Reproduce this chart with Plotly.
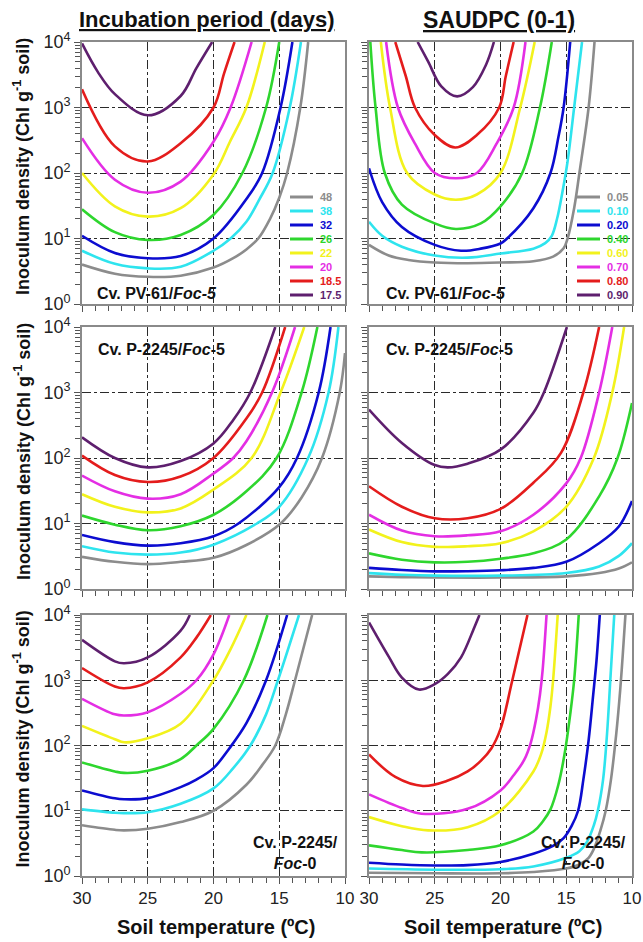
import plotly.graph_objects as go

W, H = 643, 942

# ---------------- categories / ticks ----------------
IP_LEVELS = ["48", "38", "32", "26", "22", "20", "18.5", "17.5"]
SAUDPC_LEVELS = ["0.05", "0.10", "0.20", "0.40", "0.60", "0.70", "0.80", "0.90"]
X_TICKS = [30, 25, 20, 15, 10]
X_TICK_TEXT = ["30", "25", "20", "15", "10"]
Y_TICKS = [1, 10, 100, 1000, 10000]
Y_TICK_TEXT = ["10<sup>0</sup>", "10<sup>1</sup>", "10<sup>2</sup>", "10<sup>3</sup>", "10<sup>4</sup>"]

# ---------------- data: (soil temperature, inoculum density) ----------------
# Panel 1: incubation period, Cv. PV-61 / Foc-5
p1_48 = [(30, 4.0), (27.5, 2.9), (25, 2.6), (22.5, 2.7), (20, 3.6), (18.5, 5), (17.5, 6.8), (16.6, 10), (15.7, 20), (15, 42), (14.4, 100), (13.4, 1000), (12.8, 10000)]
p1_38 = [(30, 6.5), (27.5, 4.1), (25, 3.5), (22.5, 3.7), (20, 6.5), (18.7, 10), (17.5, 18), (16.5, 40), (15.5, 100), (14.2, 1000), (13.35, 10000)]
p1_32 = [(30, 11), (27.5, 6.0), (25, 5.0), (22.5, 5.4), (20, 10), (17.5, 40), (16.3, 100), (14.9, 1000), (14.0, 10000)]
p1_26 = [(30, 28), (27.5, 12.5), (25, 9.5), (22.5, 11.3), (20, 23), (17.8, 100), (16.0, 1000), (15.0, 10000)]
p1_22 = [(30, 100), (27.5, 31), (25, 21.6), (22.5, 29), (20, 95), (18.75, 300), (17.5, 1000), (16.1, 10000)]
p1_20 = [(30, 340), (27.5, 79), (25, 50), (22.5, 74), (20, 300), (18.7, 1000), (17.1, 10000)]
p1_185 = [(30, 1900), (27.5, 255), (25, 150), (22.5, 285), (20, 1000), (19.2, 3300), (18.4, 10000)]
p1_175 = [(30, 9500), (28.8, 3500), (27.5, 1600), (25, 760), (22.5, 1500), (21.3, 4000), (20.1, 10000)]

# Panel 2: SAUDPC, Cv. PV-61 / Foc-5
p2_005 = [(30, 8), (28.5, 5.5), (27, 4.7), (25, 4.3), (22.5, 4.2), (20, 4.3), (17.5, 4.5), (16, 5.3), (15.2, 7.1), (14.9, 10), (14.4, 29), (14.0, 100), (13.3, 1000), (12.85, 10000)]
p2_010 = [(30, 18), (29, 11), (27.5, 7.5), (25, 5.5), (22.5, 5.1), (20, 5.9), (17.5, 7), (16.6, 8.5), (16.1, 11), (15.7, 20), (15.3, 50), (14.9, 150), (14.4, 1000), (13.8, 10000)]
p2_020 = [(30, 118), (29, 36), (27.5, 15), (25, 8), (23, 6.5), (21.5, 7), (20, 8.4), (19.5, 10), (17.5, 29), (16.2, 100), (15.6, 350), (15.2, 1000), (14.7, 10000)]
p2_040 = [(29.9, 10000), (29.5, 1000), (28.8, 100), (27.5, 33), (25, 17), (23.4, 14), (21.5, 17), (20, 31), (18.35, 100), (17.0, 1000), (16.1, 10000)]
p2_060 = [(29.1, 10000), (28.4, 1000), (27.1, 100), (25, 47), (23.4, 39), (21.8, 47), (20.0, 100), (18.5, 1000), (17.4, 10000)]
p2_070 = [(28.7, 10000), (27.8, 1000), (26.5, 280), (25, 100), (23.4, 83), (21.8, 100), (20.3, 280), (19.0, 1000), (18.1, 10000)]
p2_080 = [(28.0, 10000), (27.2, 3000), (26.5, 1000), (25, 380), (23.45, 245), (21.8, 380), (20.1, 1000), (19.6, 3000), (19.0, 10000)]
p2_090 = [(26.3, 10000), (25.5, 5000), (24.5, 2100), (23.3, 1480), (22.1, 2050), (21.1, 4500), (20.5, 10000)]

# Panel 3: incubation period, Cv. P-2245 / Foc-5
p3_48 = [(30, 3.1), (27.5, 2.6), (25, 2.4), (22.5, 2.6), (20, 3.0), (17.5, 4.7), (14.9, 10), (13.3, 25), (11.75, 100), (10.4, 1000), (10, 4000)]
p3_38 = [(30, 4.5), (27.5, 3.6), (25, 3.35), (22.5, 3.6), (20, 4.75), (16.7, 10), (15, 18), (12.8, 100), (11.25, 1000), (10.5, 10000)]
p3_32 = [(30, 6.7), (27.5, 5.2), (25, 4.6), (22.5, 5.0), (20, 6.4), (18.1, 10), (15, 36), (13.65, 100), (12.0, 1000), (11.1, 10000)]
p3_26 = [(30, 13.2), (27.5, 9.6), (25, 7.9), (22.5, 9.1), (20, 13.6), (17.5, 31), (15.2, 100), (13.3, 1000), (12.1, 10000)]
p3_22 = [(30, 28), (27.5, 18), (25, 14.8), (22.5, 17), (20, 33), (17.1, 100), (14.9, 1000), (13.1, 10000)]
p3_20 = [(30, 54), (27.5, 31), (25, 24), (22.5, 28), (20, 58), (18.5, 100), (17.5, 180), (15.55, 1000), (13.8, 10000)]
p3_185 = [(30, 109), (27.5, 55), (25, 43), (22.5, 52), (20, 100), (17.5, 400), (16.3, 1000), (14.55, 10000)]
p3_175 = [(30, 207), (27.5, 100), (25, 72), (22.5, 90), (20, 167), (18.5, 380), (17.2, 1000), (15.3, 10000)]

# Panel 4: SAUDPC, Cv. P-2245 / Foc-5
p4_005 = [(30, 1.56), (27.5, 1.52), (25, 1.5), (20, 1.5), (15, 1.56), (12.5, 1.75), (11, 2.05), (10, 2.55)]
p4_010 = [(30, 1.75), (27.5, 1.65), (25, 1.6), (20, 1.6), (15, 1.75), (12.5, 2.2), (11, 3.2), (10, 5.0)]
p4_020 = [(30, 2.1), (27.5, 1.95), (25, 1.86), (22.5, 1.87), (20, 1.93), (17.5, 2.1), (15, 2.6), (12.5, 5.0), (11, 9), (10, 22)]
p4_040 = [(30, 3.5), (27.5, 2.8), (25, 2.55), (22.5, 2.6), (20, 2.9), (17.5, 3.5), (15, 5.7), (12.5, 26), (11.1, 100), (10, 690)]
p4_060 = [(30, 8.1), (27.5, 5.2), (25, 4.4), (22.5, 4.5), (20, 5.0), (17.5, 7.6), (15, 18), (12.9, 100), (11.5, 1000), (10.6, 10000)]
p4_070 = [(30, 13.6), (27.5, 7.8), (25, 6.4), (22.5, 6.6), (20, 7.6), (17.5, 13.6), (15, 41), (13.9, 100), (12.5, 1000), (11.5, 10000)]
p4_080 = [(30, 37), (27.5, 18), (25, 12), (22.5, 12), (20, 16.7), (17.5, 42), (15.4, 120), (13.7, 1000), (12.5, 10000)]
p4_090 = [(30, 550), (27.5, 170), (25, 78), (24, 72), (22.5, 82), (20, 134), (17.5, 490), (16.7, 1000), (14.95, 10000)]

# Panel 5: incubation period, Cv. P-2245 / Foc-0
p5_48 = [(30, 6.0), (27.5, 5.1), (26.8, 5.0), (25, 5.3), (22.5, 6.7), (20, 10), (17.5, 25), (16.3, 50), (15.3, 100), (14.5, 300), (13.8, 1000), (12.5, 10000)]
p5_38 = [(30, 10.5), (27.5, 9.3), (26.8, 9.2), (25, 9.5), (22.5, 12.8), (20, 22), (18.5, 45), (17.2, 100), (16, 300), (15.1, 1000), (13.5, 10000)]
p5_32 = [(30, 20.5), (27.5, 15.5), (26.8, 15), (25, 15.6), (22.5, 23), (21.3, 30), (20, 45), (18.8, 90), (17.5, 220), (16, 1000), (14.4, 10000)]
p5_26 = [(30, 55), (27.5, 40), (26.8, 38), (25, 41), (22.5, 62), (21.3, 100), (20, 180), (17.7, 1000), (15.9, 10000)]
p5_22 = [(30, 200), (27.5, 125), (26.8, 112), (25, 129), (22.5, 215), (20, 1000), (18.7, 3000), (17.5, 10000)]
p5_20 = [(30, 520), (27.5, 300), (26.8, 288), (25, 324), (22.5, 620), (21.3, 1000), (20, 2500), (18.8, 10000)]
p5_185 = [(30, 1540), (27.5, 800), (26.8, 755), (25, 930), (22.5, 2240), (21.3, 4500), (20.2, 10000)]
p5_175 = [(30, 4150), (27.5, 1950), (26.8, 1820), (25, 2240), (22.5, 5750), (21.8, 10000)]

# Panel 6: SAUDPC, Cv. P-2245 / Foc-0
p6_005 = [(30, 1.12), (25, 1.1), (20, 1.1), (17.5, 1.15), (15, 1.3), (14, 1.5), (13.3, 1.9), (12.9, 2.6), (12.4, 5), (12.0, 10), (11.6, 30), (11.2, 150), (10.9, 700), (10.7, 2500), (10.5, 10000)]
p6_010 = [(30, 1.3), (25, 1.25), (20, 1.27), (17.5, 1.4), (15, 1.9), (14, 2.4), (13.4, 3.4), (12.9, 6), (12.6, 10), (12.2, 30), (11.9, 150), (11.65, 1000), (11.35, 10000)]
p6_020 = [(30, 1.6), (27.5, 1.5), (25, 1.45), (22.5, 1.47), (20, 1.64), (17.5, 2.2), (16, 2.9), (15.2, 3.8), (14.6, 5.8), (14.1, 10), (13.7, 30), (13.3, 120), (12.95, 600), (12.7, 2000), (12.45, 10000)]
p6_040 = [(30, 2.95), (27.5, 2.5), (26, 2.3), (22.5, 2.5), (20, 2.95), (17.5, 4.8), (16.8, 6.8), (16.2, 10.5), (15.6, 25), (15.1, 80), (14.7, 300), (14.4, 1000), (14.05, 10000)]
p6_060 = [(30, 8.0), (27.5, 5.8), (25.5, 5.0), (22.5, 5.6), (20, 10), (17.5, 40), (16.9, 75), (16.5, 160), (16.2, 400), (16.0, 1000), (15.65, 10000)]
p6_070 = [(30, 17.8), (27.5, 11), (26, 9), (22.5, 10.7), (20, 20.5), (19, 35), (18.2, 60), (17.7, 110), (17.3, 250), (17.0, 600), (16.8, 1400), (16.5, 10000)]
p6_080 = [(30, 73), (28, 33), (25.9, 24), (24, 29), (22.5, 40), (21.5, 58), (20.7, 90), (20, 180), (19.1, 1000), (17.95, 10000)]
p6_090 = [(30, 7700), (28.5, 2300), (27.5, 1100), (26.2, 720), (25, 870), (24, 1250), (23, 2240), (22, 6400), (21.6, 10000)]

PANELS = [
    ([p1_48, p1_38, p1_32, p1_26, p1_22, p1_20, p1_185, p1_175], IP_LEVELS),
    ([p2_005, p2_010, p2_020, p2_040, p2_060, p2_070, p2_080, p2_090], SAUDPC_LEVELS),
    ([p3_48, p3_38, p3_32, p3_26, p3_22, p3_20, p3_185, p3_175], IP_LEVELS),
    ([p4_005, p4_010, p4_020, p4_040, p4_060, p4_070, p4_080, p4_090], SAUDPC_LEVELS),
    ([p5_48, p5_38, p5_32, p5_26, p5_22, p5_20, p5_185, p5_175], IP_LEVELS),
    ([p6_005, p6_010, p6_020, p6_040, p6_060, p6_070, p6_080, p6_090], SAUDPC_LEVELS),
]

COLORS = ["#8c8c8c", "#2ee4ee", "#0c0cd0", "#2ed62e", "#f2f21c", "#e42ee4", "#e41c1c", "#5e1f6e"]

# ---------------- layout geometry (pixels) ----------------
COL_X = [(82, 345), (369, 632)]
ROW_Y = [(42, 304), (327, 589), (615, 876)]


def px(x):
    return x / W


def py(y):
    return 1 - y / H


FONT = "Liberation Sans, Arial, Helvetica, sans-serif"
FRAME = "#8a8a8a"
GRID = "#2a2a2a"

fig = go.Figure()
layout = dict(
    template="none",
    width=W, height=H,
    margin=dict(l=0, r=0, t=0, b=0, pad=0, autoexpand=False),
    paper_bgcolor="white", plot_bgcolor="white",
    showlegend=False,
    font=dict(family=FONT, color="#222222"),
)

y_minor = [m * 10 ** k for k in range(0, 4) for m in range(2, 10)]
x_minor = [t for t in range(11, 30) if t % 5 != 0]

for idx, (curves, levels) in enumerate(PANELS):
    row, col = divmod(idx, 2)
    n = idx + 1
    xa = "x" if n == 1 else f"x{n}"
    ya = "y" if n == 1 else f"y{n}"
    for pts, lev, colr in zip(curves, levels, COLORS):
        fig.add_trace(go.Scatter(
            x=[p[0] for p in pts], y=[p[1] for p in pts],
            mode="lines", name=lev,
            line=dict(color=colr, width=2.6, shape="spline", smoothing=1.0),
            xaxis=xa, yaxis=ya, hoverinfo="skip",
        ))
    x0, x1 = COL_X[col]
    y0, y1 = ROW_Y[row]
    layout["xaxis" if n == 1 else f"xaxis{n}"] = dict(
        domain=[px(x0), px(x1)], anchor=ya, range=[30, 10], autorange=False, automargin=False,
        tickmode="array", tickvals=X_TICKS, ticktext=X_TICK_TEXT,
        showticklabels=(row == 2), tickfont=dict(size=17, color="#222222"),
        ticks="outside", ticklen=6, tickwidth=1, tickcolor="#555555",
        minor=dict(tickvals=x_minor, ticks="outside", ticklen=5, tickwidth=1, tickcolor="#555555", showgrid=False),
        showline=True, mirror=True, linecolor=FRAME, linewidth=1.6,
        showgrid=True, gridcolor=GRID, gridwidth=1, griddash="dashdot",
        zeroline=False, fixedrange=True,
    )
    layout["yaxis" if n == 1 else f"yaxis{n}"] = dict(
        domain=[py(y1), py(y0)], anchor=xa, type="log", range=[0, 4], autorange=False, automargin=False,
        tickmode="array", tickvals=Y_TICKS, ticktext=Y_TICK_TEXT,
        showticklabels=(col == 0), tickfont=dict(size=18, color="#222222"),
        ticks="outside", ticklen=6, tickwidth=1, tickcolor="#555555",
        minor=dict(tickvals=y_minor, ticks="outside", ticklen=5, tickwidth=1, tickcolor="#555555", showgrid=False),
        showline=True, mirror=True, linecolor=FRAME, linewidth=1.6,
        showgrid=True, gridcolor=GRID, gridwidth=1, griddash="dashdot",
        zeroline=False, fixedrange=True,
    )


def note(text, x, y, size, color="#111111", xanchor="center", yanchor="middle", **kw):
    return dict(text=text, x=px(x), y=py(y), xref="paper", yref="paper", showarrow=False,
                xanchor=xanchor, yanchor=yanchor, font=dict(size=size, color=color), **kw)


annotations = []
# Column titles
annotations.append(note("<b><u>Incubation period (days)</u></b>", 206, 20, 22))
annotations.append(note("<b><u>SAUDPC (0-1)</u></b>", 499, 20, 23))
# Y titles
for (y0, y1) in ROW_Y:
    annotations.append(note("<b>Inoculum density (Chl g<sup>-1</sup> soil)</b>", 22, (y0 + y1) / 2 - 6, 18, textangle=-90))
# X titles
for (x0, x1) in COL_X:
    annotations.append(note("<b>Soil temperature (ºC)</b>", (x0 + x1) / 2 + 2, 927, 20))

# Panel labels
annotations += [
    note("<b>Cv. PV-61/<i>Foc-5</i></b>", 95, 293, 16, xanchor="left"),
    note("<b>Cv. PV-61/<i>Foc-5</i></b>", 384, 293, 16, xanchor="left"),
    note("<b>Cv. P-2245/<i>Foc</i>-5</b>", 96, 349, 16, xanchor="left"),
    note("<b>Cv. P-2245/<i>Foc</i>-5</b>", 384, 349, 16, xanchor="left"),
    note("<b>Cv. P-2245/<br><i>Foc</i>-0</b>", 295, 853, 16, align="center"),
    note("<b>Cv. P-2245/<br><i>Foc</i>-0</b>", 583, 853, 16, align="center"),
]

# Legends (key drawn inside panels 1 and 2)
shapes = []
LEG_ROWS = [197, 211, 225, 239, 253, 267, 281, 295]
for (lx0, lx1, tx), levels in [((290, 313, 318), IP_LEVELS), ((577, 600, 605), SAUDPC_LEVELS)]:
    for yy, lev, colr in zip(LEG_ROWS, levels, COLORS):
        shapes.append(dict(type="line", xref="paper", yref="paper", x0=px(lx0), x1=px(lx1), y0=py(yy), y1=py(yy),
                           line=dict(color=colr, width=3)))
        annotations.append(note(f"<b>{lev}</b>", tx, yy, 11, color=colr, xanchor="left"))

layout["annotations"] = annotations
layout["shapes"] = shapes
fig.update_layout(**layout)
fig.write_html(
    "out.html",
    config={"displayModeBar": False, "staticPlot": False},
    post_script="document.body.style.margin='0px';document.documentElement.style.margin='0px';",
)
